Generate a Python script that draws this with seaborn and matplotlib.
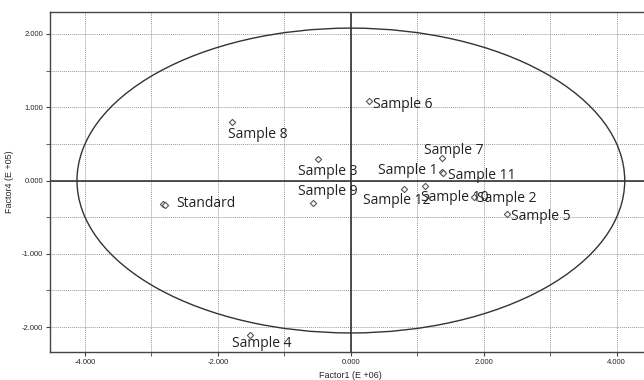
import numpy as np
import pandas as pd
import seaborn as sns
import matplotlib.pyplot as plt
from matplotlib.patches import Ellipse
from matplotlib.ticker import MultipleLocator, FuncFormatter

# scores (Factor1 in E+06 units x1000, Factor4 in E+05)
names = ["Standard", "Standard", "Sample 1", "Sample 2", "Sample 3", "Sample 4",
         "Sample 5", "Sample 6", "Sample 7", "Sample 8", "Sample 9",
         "Sample 10", "Sample 11", "Sample 12"]
factor1 = [-2830, -2790, 1365, 1860, -495, -1515, 2355, 270, 1365, -1785, -570,
           1110, 1385, 795]
factor4 = [-0.32, -0.34, 0.11, -0.23, 0.29, -2.11, -0.46, 1.08, 0.31, 0.80, -0.31,
           -0.07, 0.10, -0.11]

# label offsets in pixels (dx, dy downwards) and alignment
label_pos = {
    "Standard": (14, 0, "left"),
    "Sample 1": (-4, -2, "right"),
    "Sample 2": (3, 1, "left"),
    "Sample 3": (-20, 12, "left"),
    "Sample 4": (-18, 8, "left"),
    "Sample 5": (4, 2, "left"),
    "Sample 6": (4, 3, "left"),
    "Sample 7": (-18, -7, "left"),
    "Sample 8": (-4, 13, "left"),
    "Sample 9": (-15, -12, "left"),
    "Sample 10": (-4, 12, "left"),
    "Sample 11": (5, 2, "left"),
    "Sample 12": (-41, 12, "left"),
}

df = pd.DataFrame({"name": names, "f1": factor1, "f4": factor4})

sns.set_style("white")
plt.rcParams['font.family'] = ['Liberation Sans', 'DejaVu Sans']

fig = plt.figure(figsize=(6.44, 3.80), dpi=100)
ax = fig.add_axes([50 / 644, 1 - 352 / 380, 1 - 50 / 644, 340 / 380])

ax.set_xlim(-4526, 4410)
ax.set_ylim(-2.34, 2.30)

# dotted grid every 1000 / 0.5
ax.xaxis.set_major_locator(MultipleLocator(2000))
ax.xaxis.set_minor_locator(MultipleLocator(1000))
ax.yaxis.set_major_locator(MultipleLocator(1))
ax.yaxis.set_minor_locator(MultipleLocator(0.5))
ax.xaxis.set_major_formatter(FuncFormatter(lambda v, p: f"{v:,.0f}".replace(",", ".") if v != 0 else "0.000"))
ax.yaxis.set_major_formatter(FuncFormatter(lambda v, p: f"{v:.3f}"))
ax.grid(True, which="both", color="#9a9a9a", linestyle=(0, (1, 1)), linewidth=0.7)
ax.tick_params(which="major", labelsize=5.5, length=3, color="#444444", direction="out", pad=2)
ax.tick_params(which="minor", length=3, color="#444444", direction="out")
ax.tick_params(axis="both", which="both", bottom=True, left=True)
ax.set_axisbelow(True)

for side in ["left", "bottom", "top"]:
    ax.spines[side].set_color("#444444")
    ax.spines[side].set_linewidth(1.0)
ax.spines["right"].set_visible(False)

ax.axhline(0, color="#333333", lw=1.2, zorder=1)
ax.axvline(0, color="#333333", lw=1.2, zorder=1)

ax.add_patch(Ellipse((0, 0), 2 * 4120, 2 * 2.08, fill=False, edgecolor="#333333", lw=1.0, zorder=2))

sns.scatterplot(data=df, x="f1", y="f4", ax=ax, marker="D", s=10,
                facecolor="white", edgecolor="#555555", linewidth=0.8, zorder=3, legend=False)

px = 72 / 100
seen = set()
for n, x, y in zip(names, factor1, factor4):
    if n in seen:
        continue
    seen.add(n)
    dx, dy, ha = label_pos[n]
    ax.annotate(n, (x, y), xytext=(dx * px, -dy * px), textcoords="offset points",
                ha=ha, va="center", fontsize=10, family=["Open Sans", "DejaVu Sans"],
                color="#222222", zorder=4)

ax.set_xlabel("Factor1 (E +06)", fontsize=6.5)
ax.set_ylabel("Factor4 (E +05)", fontsize=6.5)
ax.xaxis.set_label_coords((350 - 50) / 594, -0.055)
ax.yaxis.set_label_coords((14 - 50) / 594, 0.5)

fig.savefig("out.png", dpi=100)
